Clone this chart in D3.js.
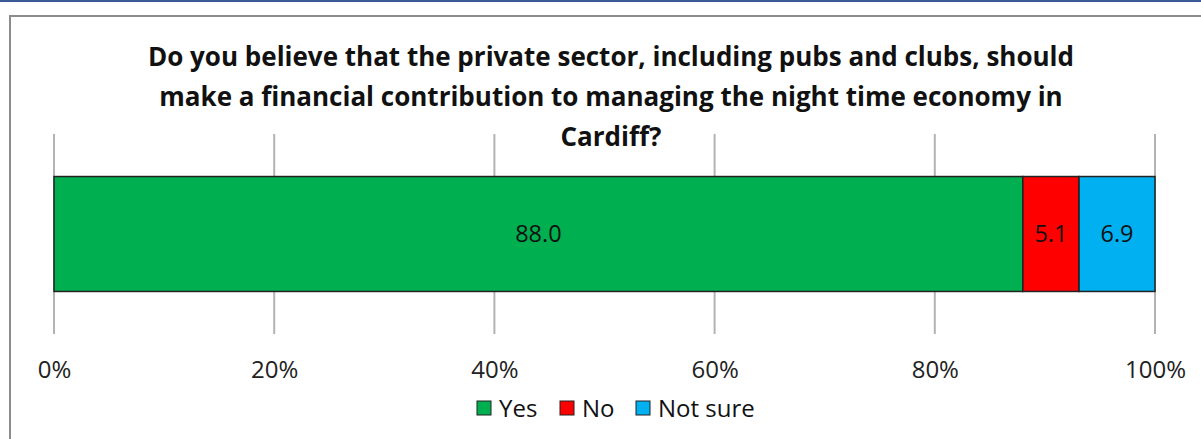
<!DOCTYPE html>
<html>
<head>
<meta charset="utf-8">
<script src="https://cdn.jsdelivr.net/npm/d3@7"></script>
<style>
  body { margin: 0; background: #fff; }
  svg { display: block; font-family: "Open Sans", sans-serif; }
</style>
</head>
<body>
<div id="chart"></div>
<script>
const categories = ['Yes', 'No', 'Not sure'];
const values = [88.0, 5.1, 6.9];
const colors = ['#00b050', '#ff0000', '#00b0f0'];
const tickValues = [0, 0.2, 0.4, 0.6, 0.8, 1];
const titleLines = [
  'Do you believe that the private sector, including pubs and clubs, should',
  'make a financial contribution to managing the night time economy in',
  'Cardiff?'
];

const width = 1201;
const height = 439;

const svg = d3.select('#chart')
  .append('svg')
  .attr('width', width)
  .attr('height', height);

// top accent line and chart frame
svg.append('rect')
  .attr('x', 0).attr('y', 0)
  .attr('width', width).attr('height', 2)
  .attr('fill', '#3d5a98');

svg.append('path')
  .attr('d', `M10,${height} L10,16 L${width},16`)
  .attr('fill', 'none')
  .attr('stroke', '#8c8c8c')
  .attr('stroke-width', 2);

const x = d3.scaleLinear()
  .domain([0, 1])
  .range([54, 1155]);

const y = d3.scaleBand()
  .domain(['q'])
  .range([134, 334])
  .paddingInner(0)
  .paddingOuter(0.37);

// stacked segments
let acc = 0;
const segs = values.map((v, i) => {
  const s = { key: categories[i], value: v, x0: acc / 100, x1: (acc + v) / 100, color: colors[i] };
  acc += v;
  return s;
});

// gridlines
svg.append('g')
  .selectAll('line')
  .data(tickValues)
  .join('line')
  .attr('x1', d => x(d))
  .attr('x2', d => x(d))
  .attr('y1', 134)
  .attr('y2', 334)
  .attr('stroke', '#b3b3b3')
  .attr('stroke-width', 2);

svg.append('g')
  .selectAll('rect')
  .data(segs)
  .join('rect')
  .attr('x', d => x(d.x0))
  .attr('y', y('q'))
  .attr('width', d => x(d.x1) - x(d.x0))
  .attr('height', y.bandwidth())
  .attr('fill', d => d.color)
  .attr('stroke', '#222')
  .attr('stroke-width', 1.5);

svg.append('g')
  .selectAll('text')
  .data(segs)
  .join('text')
  .attr('x', d => (x(d.x0) + x(d.x1)) / 2)
  .attr('y', y('q') + y.bandwidth() / 2 + 8)
  .attr('text-anchor', 'middle')
  .style('font-size', '23.5px')
  .attr('fill', '#111')
  .text(d => d.value.toFixed(1));

// x axis labels
const axis = svg.append('g')
  .call(d3.axisBottom(x).tickValues(tickValues).tickFormat(d3.format('.0%')).tickSize(0));
axis.select('.domain').remove();
axis.selectAll('text')
  .attr('y', 378)
  .attr('dy', null)
  .style('font-family', '"Open Sans", sans-serif')
  .style('font-size', '24px')
  .attr('fill', '#222');

// title
svg.append('g')
  .selectAll('text')
  .data(titleLines)
  .join('text')
  .attr('x', 611)
  .attr('y', (d, i) => 66 + i * 40)
  .attr('text-anchor', 'middle')
  .style('font-size', '26px')
  .style('font-weight', 'bold')
  .attr('fill', '#111')
  .text(d => d);

// legend
const legendX = [477, 560, 636];
const legend = svg.append('g').attr('transform', 'translate(0,401)');
categories.forEach((c, i) => {
  const g = legend.append('g').attr('transform', `translate(${legendX[i]},0)`);
  g.append('rect')
    .attr('width', 14).attr('height', 14)
    .attr('fill', colors[i])
    .attr('stroke', '#222')
    .attr('stroke-width', 1);
  g.append('text')
    .attr('x', 22).attr('y', 16)
    .style('font-size', '24px')
    .attr('fill', '#111')
    .text(c);
});
</script>
</body>
</html>
